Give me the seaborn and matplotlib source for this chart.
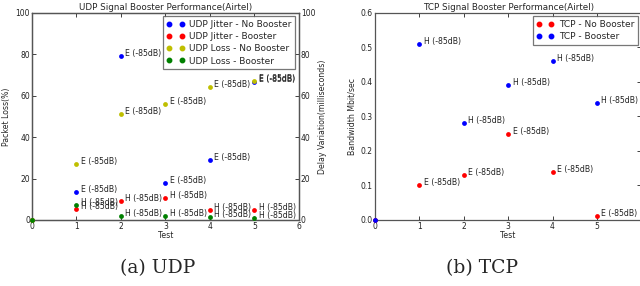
import matplotlib
matplotlib.use("Agg")
import matplotlib.pyplot as plt
import seaborn as sns
import pandas as pd
from matplotlib.lines import Line2D

sns.set_theme(style="white")
plt.rcParams['font.family'] = ['DejaVu Sans']

# ---- data ----
tests = [0, 1, 2, 3, 4, 5]
udp_jitter_no_booster = [0, 13.5, 79, 18, 29, 66.5]
udp_jitter_booster = [0, 5.5, 9, 10.5, 5, 5]
udp_loss_no_booster = [0, 27, 51, 56, 64, 67]
udp_loss_booster = [0, 7, 2, 2, 1.2, 1]
tcp_no_booster = [0, 0.10, 0.13, 0.25, 0.14, 0.01]
tcp_booster = [0, 0.51, 0.28, 0.39, 0.46, 0.34]
label_e = "E (-85dB)"
label_h = "H (-85dB)"

C_B, C_R, C_Y, C_G = (0, 0, 1), (1, 0, 0), (0.75, 0.75, 0), (0, 0.5, 0)
edge = "#555555"

fig = plt.figure(figsize=(6.4, 2.86), dpi=100)
ax1 = fig.add_axes([0.05, 0.231, 0.417, 0.724])
ax2 = ax1.twinx()
ax3 = fig.add_axes([0.586, 0.231, 0.416, 0.724])
ax1.set_zorder(ax2.get_zorder() + 1)
ax1.patch.set_visible(False)

fs_tick = 5.5
fs_lab = 5.6

def style(ax, ylim, yticks):
    ax.set_xlim(0, 6)
    ax.set_ylim(*ylim)
    ax.set_xticks(range(0, 7))
    ax.set_yticks(yticks)
    ax.tick_params(axis='both', direction='in', length=3, width=0.6, labelsize=fs_tick,
                   colors="#222222", pad=1.5, top=True, bottom=True)
    for s in ax.spines.values():
        s.set_color(edge)
        s.set_linewidth(0.9)
    ax.grid(False)

def pts(ax, y, color, lab):
    df = pd.DataFrame({"Test": tests, "v": y})
    sns.scatterplot(data=df, x="Test", y="v", ax=ax, color=color, s=12,
                    edgecolor=color, linewidth=0, legend=False, zorder=3, clip_on=False)
    yr = ax.get_ylim()[1] - ax.get_ylim()[0]
    for t, v in zip(tests[1:], y[1:]):
        ax.text(t + 0.1, v + 0.012 * yr, lab, fontsize=fs_lab, color="#222222",
                va='center', ha='left')

# left chart
style(ax1, (0, 100), range(0, 101, 20))
style(ax2, (0, 100), range(0, 101, 20))
ax2.tick_params(axis='y', right=True, left=False, labelright=True)
ax1.tick_params(axis='y', right=False)
pts(ax2, udp_jitter_no_booster, C_B, label_e)
pts(ax2, udp_jitter_booster, C_R, label_h)
pts(ax1, udp_loss_no_booster, C_Y, label_e)
pts(ax1, udp_loss_booster, C_G, label_h)
ax1.set_ylabel("Packet Loss(%)", fontsize=fs_lab, labelpad=3)
ax2.set_ylabel("Delay Variation(milliseconds)", fontsize=fs_lab, labelpad=2)
ax1.set_xlabel("Test", fontsize=fs_lab, labelpad=0)
ax2.set_xlabel("")
ax1.set_title("UDP Signal Booster Performance(Airtel)", fontsize=6.3, pad=2)

leg_kw = dict(loc='upper right', numpoints=2, fontsize=6.5, frameon=True, fancybox=False,
              borderpad=0.4, handlelength=2.0, labelspacing=0.35, handletextpad=0.5,
              borderaxespad=0.4)
handles = [Line2D([], [], ls='none', marker='o', ms=3.2, color=c, mec=c)
           for c in (C_B, C_R, C_Y, C_G)]
labels = ["UDP Jitter - No Booster", "UDP Jitter - Booster",
          "UDP Loss - No Booster", "UDP Loss - Booster"]
leg = ax1.legend(handles, labels, **leg_kw)
leg.get_frame().set_edgecolor(edge)
leg.get_frame().set_linewidth(0.9)

# right chart
style(ax3, (0, 0.6), [0, 0.1, 0.2, 0.3, 0.4, 0.5, 0.6])
ax3.tick_params(axis='y', right=True)
ax3.set_yticklabels(["0.0", "0.1", "0.2", "0.3", "0.4", "0.5", "0.6"])
ax3.set_xticklabels(["0", "1", "2", "3", "4", "5", ""])
pts(ax3, tcp_no_booster, C_R, label_e)
pts(ax3, tcp_booster, C_B, label_h)
ax3.set_ylabel("Bandwidth Mbit/sec", fontsize=fs_lab, labelpad=3)
ax3.set_xlabel("Test", fontsize=fs_lab, labelpad=0)
ax3.set_title("TCP Signal Booster Performance(Airtel)", fontsize=6.3, pad=2)
handles3 = [Line2D([], [], ls='none', marker='o', ms=3.2, color=c, mec=c) for c in (C_R, C_B)]
leg3 = ax3.legend(handles3, ["TCP - No Booster", "TCP - Booster"], **leg_kw)
leg3.get_frame().set_edgecolor(edge)
leg3.get_frame().set_linewidth(0.9)

# captions
fig.text(0.247, 0.062, "(a) UDP", fontsize=13.5, family="DejaVu Serif", ha='center', va='center')
fig.text(0.753, 0.062, "(b) TCP", fontsize=13.5, family="DejaVu Serif", ha='center', va='center')

fig.savefig("out.png", dpi=100)
